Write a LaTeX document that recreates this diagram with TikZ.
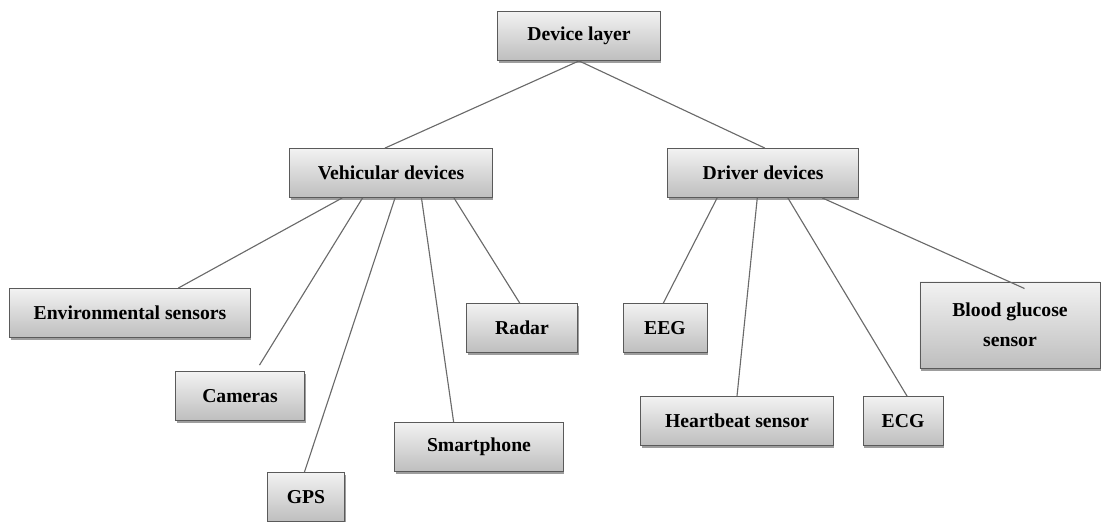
\documentclass[tikz,border=0pt]{standalone}
\usepackage{fontspec}
\setmainfont{Liberation Serif}
\usetikzlibrary{calc,shadows}
\definecolor{edgegray}{HTML}{6A6A6A}
\definecolor{boxline} {HTML}{5A5A5A}
\definecolor{boxtop}  {HTML}{F2F2F2}
\definecolor{boxbot}  {HTML}{BEBEBE}

\begin{document}
\begin{tikzpicture}[
  x=0.025cm, y=-0.025cm,
  every node/.style={font=\fontsize{14}{16}\selectfont\bfseries},
  box/.style={rectangle, draw=boxline, line width=0.7pt, top color=boxtop, bottom color=boxbot,
              minimum height=1.22cm, inner sep=2pt, align=center,
              drop shadow={shadow xshift=0.8pt, shadow yshift=-1.8pt, opacity=0.55, fill=black!70}},
  link/.style={draw=edgegray, line width=0.8pt}
]
\useasboundingbox (0,0) rectangle (1102,521);
% top level
\node[box, minimum width=4.05cm] (dl) at (579,36) {Device layer};
\node[box, minimum width=5.05cm] (vd) at (391,173) {Vehicular devices};
\node[box, minimum width=4.75cm] (dd) at (763,173) {Driver devices};
% vehicular side
\node[box, minimum width=6.0cm] (env) at (130,313) {Environmental sensors};
\node[box, minimum width=3.22cm] (cam) at (240,396) {Cameras};
\node[box, minimum width=1.92cm] (gps) at (306,497) {GPS};
\node[box, minimum width=4.2cm] (sph) at (479,447) {Smartphone};
\node[box, minimum width=2.78cm] (rad) at (522,328) {Radar};
% driver side
\node[box, minimum width=2.1cm] (eeg) at (665,328) {EEG};
\node[box, minimum width=4.8cm] (hb) at (737,421) {Heartbeat sensor};
\node[box, minimum width=2.0cm] (ecg) at (903,421) {ECG};
\node[box, minimum width=4.5cm, minimum height=2.15cm] (bgs) at (1010,325) {Blood glucose\\[5pt] sensor};
% connectors
\draw[link] (dl.south) -- ($(vd.north west)!.47!(vd.north east)$);
\draw[link] (dl.south) -- ($(dd.north west)!.51!(dd.north east)$);
\draw[link] ($(vd.south west)!.26!(vd.south east)$) -- ($(env.north west)!.70!(env.north east)$);
\draw[link] ($(vd.south west)!.36!(vd.south east)$) -- ($(cam.north west)!.65!(cam.north east)+(0,-6)$);
\draw[link] ($(vd.south west)!.52!(vd.south east)$) -- ($(gps.north west)!.48!(gps.north east)$);
\draw[link] ($(vd.south west)!.65!(vd.south east)$) -- ($(sph.north west)!.35!(sph.north east)$);
\draw[link] ($(vd.south west)!.81!(vd.south east)$) -- ($(rad.north west)!.48!(rad.north east)$);
\draw[link] ($(dd.south west)!.26!(dd.south east)$) -- ($(eeg.north west)!.48!(eeg.north east)$);
\draw[link] ($(dd.south west)!.47!(dd.south east)$) -- ($(hb.north west)!.50!(hb.north east)$);
\draw[link] ($(dd.south west)!.63!(dd.south east)$) -- ($(ecg.north west)!.55!(ecg.north east)$);
\draw[link] ($(dd.south west)!.81!(dd.south east)$) -- ($(bgs.north west)!.58!(bgs.north east)+(0,7)$);
\end{tikzpicture}
\end{document}
